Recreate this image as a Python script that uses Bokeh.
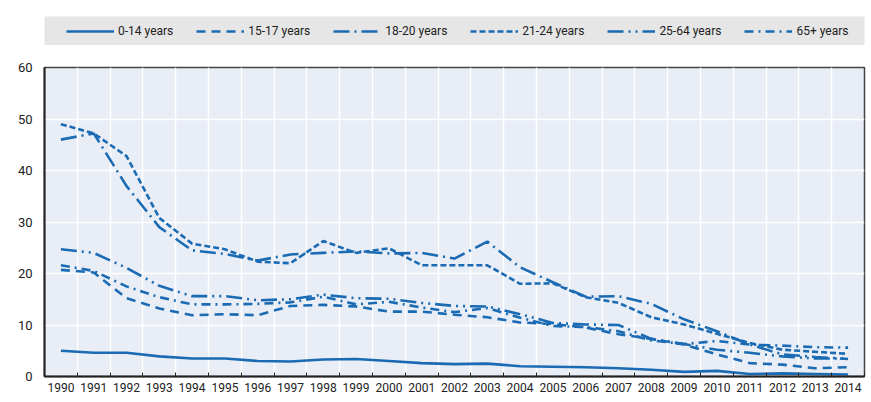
from bokeh.plotting import figure
from bokeh.models import FixedTicker, Legend, LegendItem, Range1d
from bokeh.layouts import column
from bokeh.embed import file_html
from bokeh.resources import INLINE

years = list(range(1990, 2015))
age_0_14 = [5.0, 4.6, 4.6, 3.9, 3.5, 3.5, 3.0, 2.9, 3.3, 3.4, 3.0, 2.6, 2.4, 2.5, 2.0, 1.9, 1.8, 1.6, 1.3, 0.9, 1.1, 0.5, 0.6, 0.5, 0.4]
age_15_17 = [20.7, 20.2, 15.2, 13.2, 11.9, 12.1, 11.9, 13.7, 13.9, 13.6, 12.6, 12.6, 12.0, 11.5, 10.5, 10.2, 9.5, 8.2, 7.3, 6.2, 4.3, 2.6, 2.3, 1.6, 1.8]
age_18_20 = [46.0, 47.2, 37.0, 29.0, 24.5, 23.8, 22.5, 23.7, 24.0, 24.3, 23.9, 24.0, 22.9, 26.2, 21.2, 18.3, 15.5, 15.6, 14.1, 11.1, 8.8, 6.2, 4.3, 3.8, 3.4]
age_21_24 = [49.0, 47.2, 42.8, 30.8, 25.8, 24.7, 22.3, 22.0, 26.3, 24.0, 24.9, 21.6, 21.6, 21.6, 18.0, 18.1, 15.4, 14.3, 11.5, 10.1, 8.3, 6.5, 5.2, 4.8, 4.4]
age_25_64 = [24.7, 24.0, 21.1, 17.6, 15.6, 15.6, 14.8, 15.0, 15.9, 15.2, 15.1, 14.3, 13.7, 13.6, 12.1, 10.4, 10.1, 10.0, 7.3, 6.3, 5.2, 4.6, 3.9, 3.5, 3.5]
age_65_plus = [21.6, 20.5, 17.5, 15.4, 14.0, 14.0, 14.1, 14.4, 15.5, 14.0, 14.5, 13.4, 12.5, 13.3, 11.4, 9.8, 9.6, 8.8, 7.0, 6.3, 6.9, 6.2, 6.0, 5.7, 5.6]

series = [
    ("0-14 years", age_0_14, "solid"),
    ("15-17 years", age_15_17, "9 6"),
    ("18-20 years", age_18_20, "16 5 2 5"),
    ("21-24 years", age_21_24, "6 3"),
    ("25-64 years", age_25_64, "16 5 2 5 2 5"),
    ("65+ years", age_65_plus, "9 5 2 5"),
]

FONT = "Roboto"
BLUE = "#1a6bb3"
LW = 2.6

# ---- legend strip (its own small figure; the series fall outside its view) ----
top = figure(width=866, height=45, output_backend="svg", toolbar_location=None,
             x_range=Range1d(0, 1), y_range=Range1d(-100, -99),
             x_axis_location=None, y_axis_location=None,
             min_border_left=44, min_border_right=2, min_border_top=16, min_border_bottom=0)
top.background_fill_color = "#e6e6e6"
top.border_fill_color = "white"
top.outline_line_color = None
top.grid.visible = False
leg_items = []
for name, vals, dash in series:
    r = top.line(years, vals, line_color=BLUE, line_width=LW, line_dash=dash)
    leg_items.append(LegendItem(label=name, renderers=[r]))
legend = Legend(items=leg_items, orientation="horizontal", location=(22, 7),
                glyph_width=48, glyph_height=12, label_standoff=4, spacing=23,
                padding=0, margin=0,
                label_text_font=FONT, label_text_font_size="12px", label_text_color="#222222",
                background_fill_alpha=0, border_line_alpha=0)
top.add_layout(legend)

# ---- main chart ----
p = figure(width=866, height=352, output_backend="svg", toolbar_location=None,
           x_range=(1989.5, 2014.5), y_range=(0, 60),
           min_border_left=43, min_border_right=2, min_border_top=22, min_border_bottom=21)
p.background_fill_color = "#e9edf5"
p.border_fill_color = "white"
p.outline_line_color = "#444444"
p.outline_line_width = 1.5

for name, vals, dash in series:
    p.line(years, vals, line_color=BLUE, line_width=LW, line_dash=dash)

boundaries = [y + 0.5 for y in range(1989, 2015)]
p.xaxis.ticker = FixedTicker(ticks=years, minor_ticks=boundaries)
p.xgrid.ticker = FixedTicker(ticks=boundaries)
p.yaxis.ticker = FixedTicker(ticks=[0, 10, 20, 30, 40, 50, 60])

p.xgrid.grid_line_color = "white"
p.xgrid.grid_line_width = 1.5
p.ygrid.grid_line_color = "white"
p.ygrid.grid_line_width = 1.5

for ax in (p.xaxis, p.yaxis):
    ax.axis_line_color = "#222222"
    ax.axis_line_width = 2
    ax.major_tick_in = 0
    ax.major_tick_out = 0
    ax.major_label_text_font = FONT
    ax.major_label_text_color = "#222222"
p.xaxis.minor_tick_in = 4
p.xaxis.minor_tick_out = 0
p.xaxis.minor_tick_line_color = "#222222"
p.xaxis.major_label_text_font_size = "12px"
p.xaxis.major_label_standoff = 6
p.yaxis.minor_tick_line_color = None
p.yaxis.major_label_text_font_size = "13px"
p.yaxis.major_label_standoff = 12

open("out.html", "w").write(file_html(column(top, p), INLINE))
